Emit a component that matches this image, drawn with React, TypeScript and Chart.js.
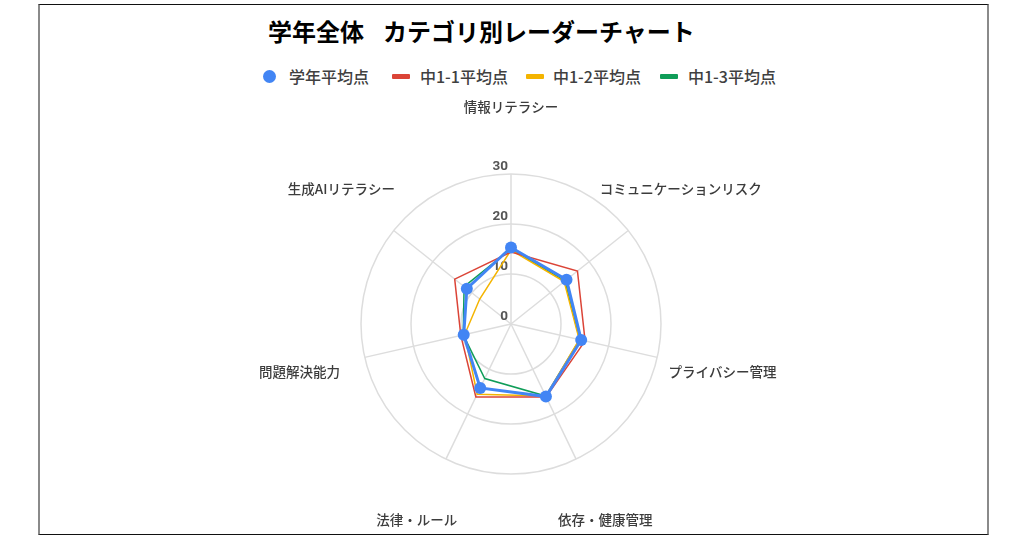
import React, { useEffect, useRef } from 'react';
import { Chart, registerables } from 'chart.js';

Chart.register(...registerables);

const categories = ['情報リテラシー', 'コミュニケーションリスク', 'プライバシー管理', '依存・健康管理', '法律・ルール', '問題解決能力', '生成AIリテラシー'];
const gradeAverage = [15.3, 14.2, 14.4, 16.1, 14.2, 9.7, 11.3];
const class1 = [14.4, 17.0, 15.2, 16.2, 16.2, 10.3, 14.4];
const class2 = [14.8, 13.6, 14.0, 16.0, 15.6, 9.5, 8.0];
const class3 = [15.0, 13.8, 14.1, 16.0, 12.1, 9.8, 12.0];
const seriesNames = ['学年平均点', '中1-1平均点', '中1-2平均点', '中1-3平均点'];
const seriesColors = ['#4285F4', '#DB4437', '#F4B400', '#0F9D58'];
const tickValues = [0, 10, 20, 30];

const FONT = '"Noto Sans CJK JP", "Noto Sans", sans-serif';

// labels centred on the spokes and tick numbers sitting just above each ring
const radarText = {
  id: 'radarText',
  beforeDatasetsDraw(chart: any) {
    const scale = chart.scales.r;
    const ctx = chart.ctx;
    ctx.save();
    ctx.fillStyle = '#555';
    ctx.font = `bold 13.5px Roboto, ${FONT}`;
    ctx.textAlign = 'right';
    ctx.textBaseline = 'middle';
    tickValues.forEach(v => {
      const d = scale.getDistanceFromCenterForValue(v);
      ctx.fillText(String(v), scale.xCenter - 3, scale.yCenter - d - 7);
    });
    ctx.restore();
  },
  afterDraw(chart: any) {
    const scale = chart.scales.r;
    const ctx = chart.ctx;
    ctx.save();
    ctx.fillStyle = '#3c3c3c';
    ctx.font = `500 13.5px ${FONT}`;
    ctx.textAlign = 'center';
    ctx.textBaseline = 'middle';
    categories.forEach((label, i) => {
      const p = scale.getPointPosition(i, scale.drawingArea + 67);
      ctx.fillText(label, p.x, p.y);
    });
    ctx.restore();
  },
};

const legendLeft = [263, 392, 526, 660];
const legendTextLeft = [289, 420, 553, 688];

const App: React.FC = () => {
  const canvasRef = useRef<HTMLCanvasElement | null>(null);

  useEffect(() => {
    if (!canvasRef.current) return;
    const values = [gradeAverage, class1, class2, class3];
    const chart = new Chart(canvasRef.current, {
      type: 'radar',
      data: {
        labels: categories,
        datasets: values.map((data, i) => ({
          label: seriesNames[i],
          data,
          borderColor: seriesColors[i],
          backgroundColor: seriesColors[i],
          borderWidth: i === 0 ? 3 : 1.5,
          pointRadius: i === 0 ? 6 : 0,
          pointBorderWidth: 0,
          pointBackgroundColor: seriesColors[i],
          fill: false,
        })),
      },
      options: {
        animation: false,
        responsive: true,
        maintainAspectRatio: false,
        layout: { padding: { left: 361, right: 368, top: 174, bottom: 66 } },
        plugins: {
          legend: { display: false },
          title: { display: false },
          tooltip: { enabled: false },
        },
        elements: { line: { tension: 0 } },
        scales: {
          r: {
            min: 0,
            max: 30,
            ticks: { display: false, stepSize: 10 },
            pointLabels: { display: false },
            grid: { color: '#dddddd', lineWidth: 1.5, circular: true },
            angleLines: { color: '#dddddd', lineWidth: 1.5 },
          },
        },
      },
      plugins: [radarText],
    });
    return () => {
      chart.destroy();
    };
  }, []);

  return (
    <div style={{ position: 'absolute', left: 0, top: 0, width: 1029, height: 540, background: '#fff', fontFamily: FONT }}>
      <div style={{
        position: 'absolute', left: 38, top: 4, width: 951, height: 531, boxSizing: 'border-box',
        borderTop: '1.5px solid #111', borderBottom: '1.5px solid #111',
        borderLeft: '2px solid #8a8a8a', borderRight: '2px solid #8a8a8a',
      }} />
      <div style={{ position: 'absolute', left: 268, top: 19, fontSize: 24, lineHeight: '24px', fontWeight: 'bold', color: '#000', whiteSpace: 'pre', wordSpacing: 4 }}>
        学年全体  カテゴリ別レーダーチャート
      </div>
      {seriesNames.map((name, i) => (
        <React.Fragment key={name}>
          <div style={{
            position: 'absolute', left: legendLeft[i], top: i === 0 ? 70 : 74,
            width: i === 0 ? 13 : 18, height: i === 0 ? 13 : 5,
            borderRadius: i === 0 ? '50%' : 1, background: seriesColors[i],
          }} />
          <div style={{ position: 'absolute', left: legendTextLeft[i], top: 68, fontSize: 16, lineHeight: '16px', fontWeight: 500, color: '#404040', whiteSpace: 'nowrap' }}>
            {name}
          </div>
        </React.Fragment>
      ))}
      <div style={{ position: 'absolute', left: 0, top: 0, width: 1029, height: 540 }}>
        <canvas ref={canvasRef} />
      </div>
    </div>
  );
};

export default App;
